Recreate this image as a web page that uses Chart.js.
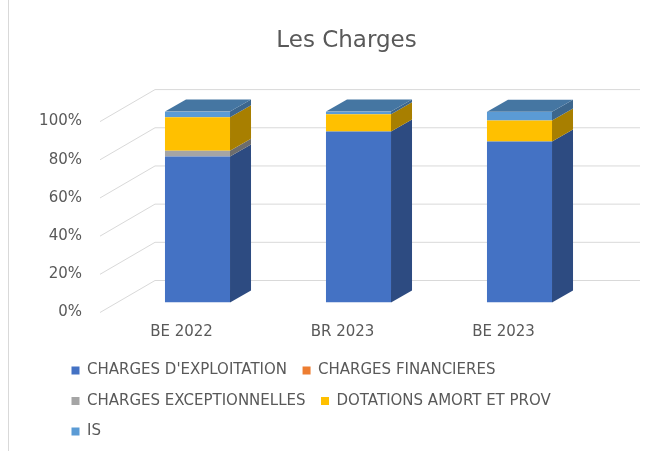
<!DOCTYPE html>
<html>
<head>
<meta charset="utf-8">
<script src="https://cdn.jsdelivr.net/npm/chart.js@4"></script>
<style>
  html, body { margin: 0; padding: 0; background: #fff; }
  #wrap { width: 666px; height: 451px; }
</style>
</head>
<body>
<div id="wrap"><canvas id="chart" width="666" height="451"></canvas></div>
<script>
// data (share of total, %)
const categories = ['BE 2022', 'BR 2023', 'BE 2023'];
const exploitation = [76.5, 89.6, 84.4];
const financieres = [0, 0, 0];
const exceptionnelles = [3.0, 0, 0];
const dotations = [17.6, 9.0, 10.9];
const impots = [2.9, 1.4, 4.6];
const yTickValues = [0, 20, 40, 60, 80, 100];

const seriesNames = ['CHARGES D\'EXPLOITATION', 'CHARGES FINANCIERES', 'CHARGES EXCEPTIONNELLES', 'DOTATIONS AMORT ET PROV', 'IS'];
const seriesColors = ['#4472C4', '#ED7D31', '#A5A5A5', '#FFC000', '#5B9BD5'];
const seriesData = [exploitation, financieres, exceptionnelles, dotations, impots];

const textColor = '#595959';
const gridColor = '#D9D9D9';

function shade(hex, f) {
  const n = parseInt(hex.slice(1), 16);
  const r = Math.round(((n >> 16) & 255) * f);
  const g = Math.round(((n >> 8) & 255) * f);
  const b = Math.round((n & 255) * f);
  return 'rgb(' + r + ',' + g + ',' + b + ')';
}

// bar depth and floor depth (pseudo 3D)
const barDx = 21, barDy = -12;
const floorFront = { dx: -17, dy: 10 };
const floorDepth = { dx: 55, dy: -32 };

const threeD = {
  id: 'threeD',
  beforeLayout(chart) {
    // wrap legend rows like the original (IS on its own row)
    const lg = chart.legend;
    if (lg && !lg._wrapped) {
      const orig = lg.update.bind(lg);
      lg.update = (mw, mh, m) => orig(Math.min(mw, 540), mh, m);
      lg._wrapped = true;
    }
  },
  afterLayout(chart) {
    if (chart.legend) { chart.legend.left += 36; chart.legend.right = chart.legend.left + 540; }
    if (chart.titleBlock) { chart.titleBlock.left += 18; chart.titleBlock.right += 18; }
  },
  beforeDraw(chart) {
    const ctx = chart.ctx;
    ctx.save();
    ctx.fillStyle = '#fff';
    ctx.fillRect(0, 0, chart.width, chart.height);
    ctx.strokeStyle = '#D9D9D9';
    ctx.lineWidth = 1;
    ctx.beginPath();
    ctx.moveTo(8.5, 0);
    ctx.lineTo(8.5, chart.height);
    ctx.stroke();
    ctx.restore();
  },
  beforeDatasetsDraw(chart) {
    const ctx = chart.ctx;
    const y = chart.scales.y;
    const area = chart.chartArea;
    ctx.save();
    ctx.strokeStyle = gridColor;
    ctx.lineWidth = 1;
    y.ticks.forEach(t => {
      const py = y.getPixelForValue(t.value);
      const x0 = area.left + floorFront.dx;
      const y0 = py + floorFront.dy;
      const x1 = x0 + floorDepth.dx;
      const y1 = y0 + floorDepth.dy;
      ctx.beginPath();
      ctx.moveTo(x0, y0);
      ctx.lineTo(x1, y1);
      ctx.lineTo(area.right + 40, y1);
      ctx.stroke();
    });
    ctx.restore();
  },
  afterDatasetsDraw(chart) {
    const ctx = chart.ctx;
    ctx.save();
    categories.forEach((c, i) => {
      let topEl = null, topIdx = -1;
      chart.data.datasets.forEach((ds, d) => {
        const el = chart.getDatasetMeta(d).data[i];
        if (!el) return;
        const h = el.base - el.y;
        if (h < 0.3) return;
        const right = el.x + el.width / 2;
        ctx.fillStyle = shade(seriesColors[d], 0.66);
        ctx.beginPath();
        ctx.moveTo(right, el.y);
        ctx.lineTo(right, el.base);
        ctx.lineTo(right + barDx, el.base + barDy);
        ctx.lineTo(right + barDx, el.y + barDy);
        ctx.closePath();
        ctx.fill();
        topEl = el; topIdx = d;
      });
      if (topEl) {
        const l = topEl.x - topEl.width / 2, r = topEl.x + topEl.width / 2;
        ctx.fillStyle = shade(seriesColors[topIdx], 0.76);
        ctx.beginPath();
        ctx.moveTo(l, topEl.y);
        ctx.lineTo(r, topEl.y);
        ctx.lineTo(r + barDx, topEl.y + barDy);
        ctx.lineTo(l + barDx, topEl.y + barDy);
        ctx.closePath();
        ctx.fill();
      }
    });
    ctx.restore();
  }
};

new Chart(document.getElementById('chart'), {
  type: 'bar',
  data: {
    labels: categories,
    datasets: seriesNames.map((name, k) => ({
      label: name,
      data: seriesData[k],
      backgroundColor: seriesColors[k],
      borderWidth: 0,
      categoryPercentage: 1,
      barPercentage: 0.404
    }))
  },
  options: {
    responsive: false,
    animation: false,
    layout: { padding: { left: 20, right: 29, top: 0, bottom: 2 } },
    plugins: {
      title: {
        display: true,
        text: 'Les Charges',
        color: textColor,
        font: { family: 'DejaVu Sans', size: 23, weight: 'normal' },
        padding: { top: 27, bottom: 57 }
      },
      legend: {
        position: 'bottom',
        align: 'start',
        labels: {
          color: textColor,
          font: { family: 'DejaVu Sans', size: 15 },
          boxWidth: 8,
          boxHeight: 8,
          padding: 15.5
        }
      },
      tooltip: { enabled: false }
    },
    scales: {
      x: {
        stacked: true,
        grid: { display: false, drawTicks: false },
        border: { display: false },
        ticks: {
          color: textColor,
          font: { family: 'DejaVu Sans', size: 15 },
          padding: 21,
          labelOffset: -16
        },
        afterFit(s) { s.height = 45; }
      },
      y: {
        stacked: true,
        min: 0,
        max: 100,
        grid: { display: false, drawTicks: false },
        border: { display: false },
        afterBuildTicks(s) { s.ticks = yTickValues.map(v => ({ value: v })); },
        ticks: {
          color: textColor,
          font: { family: 'DejaVu Sans', size: 15 },
          padding: 35,
          labelOffset: 10,
          callback: v => v + '%'
        },
        afterFit(s) { s.width = 97; }
      },
      y2: {
        type: 'linear',
        position: 'right',
        display: true,
        grid: { display: false, drawTicks: false },
        border: { display: false },
        ticks: { display: false },
        afterFit(s) { s.width = 37; }
      }
    }
  },
  plugins: [threeD]
});
</script>
</body>
</html>
